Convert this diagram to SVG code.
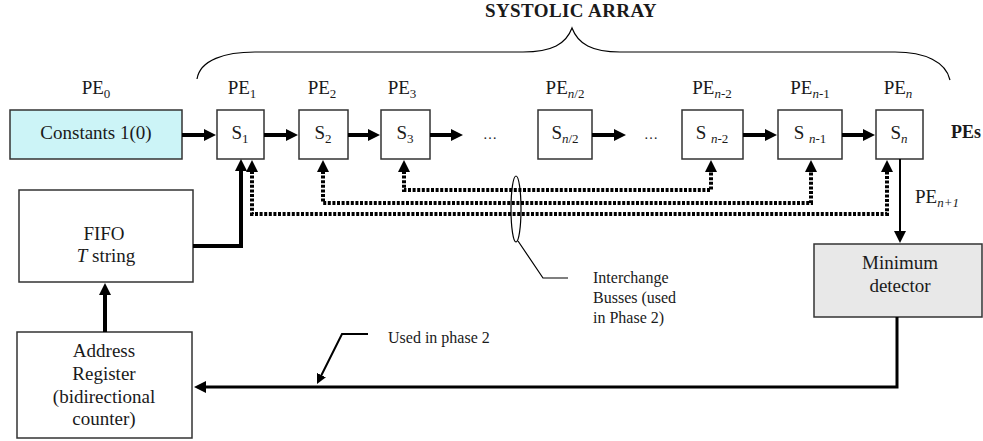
<svg xmlns="http://www.w3.org/2000/svg" width="983" height="441" viewBox="0 0 983 441">
<style>
.t{font-family:"Liberation Serif","Times New Roman",serif;font-size:19px;fill:#1a1a1a}
.c{text-anchor:middle}
.sub{font-size:13px}
.i{font-style:italic}
.b{font-weight:bold}
.box{fill:#fff;stroke:#333;stroke-width:1.5}
.thick{stroke:#000;stroke-width:4;fill:none}
.dot{stroke:#000;stroke-width:4;fill:none;stroke-dasharray:3 1.6}
.thin{stroke:#000;stroke-width:1.2;fill:none}
</style>
<defs>
<marker id="ah" markerUnits="userSpaceOnUse" markerWidth="12" markerHeight="12" viewBox="0 0 12 12" refX="1" refY="6" orient="auto-start-reverse"><path d="M0,0 L12,6 L0,12 z" fill="#000"/></marker>
<marker id="ahs" markerUnits="userSpaceOnUse" markerWidth="10" markerHeight="10" viewBox="0 0 10 10" refX="1" refY="5" orient="auto"><path d="M0,0 L10,5 L0,10 z" fill="#000"/></marker>
</defs>
<rect width="983" height="441" fill="#fff"/>

<g id="brace">
<path class="thin" d="M197,79 C200,60 225,52 255,52 L523,52 C552,52 566,44 572,28 C578,44 592,52 620,52 L895,52 C925,52 946,62 950,80"/>
<text class="t b c" x="571" y="17" style="letter-spacing:0.4px">SYSTOLIC ARRAY</text>
</g>

<g id="pe0">
<text class="t c" x="96" y="94">PE<tspan class="sub" dy="4">0</tspan></text>
<rect x="10" y="110" width="172" height="49" fill="#ccf4f7" stroke="#333" stroke-width="1.5"/>
<text class="t c" x="96" y="139">Constants 1(0)</text>
</g>

<g id="pe1">
<text class="t c" x="242" y="94">PE<tspan class="sub" dy="4">1</tspan></text>
<rect class="box" x="217" y="110" width="47" height="49"/>
<text class="t c" x="240" y="139">S<tspan class="sub" dy="4">1</tspan></text>
</g>
<g id="pe2">
<text class="t c" x="322" y="94">PE<tspan class="sub" dy="4">2</tspan></text>
<rect class="box" x="299" y="110" width="49" height="49"/>
<text class="t c" x="323" y="139">S<tspan class="sub" dy="4">2</tspan></text>
</g>
<g id="pe3">
<text class="t c" x="402" y="94">PE<tspan class="sub" dy="4">3</tspan></text>
<rect class="box" x="381" y="110" width="49" height="49"/>
<text class="t c" x="405" y="139">S<tspan class="sub" dy="4">3</tspan></text>
</g>
<g id="dots1"><text class="t c" x="490" y="139" style="font-size:14px">…</text></g>
<g id="pen2">
<text class="t c" x="565" y="94">PE<tspan class="sub" dy="4"><tspan class="i">n</tspan>/2</tspan></text>
<rect class="box" x="538" y="110" width="54" height="49"/>
<text class="t c" x="565" y="139">S<tspan class="sub" dy="4"><tspan class="i">n</tspan>/2</tspan></text>
</g>
<g id="dots2"><text class="t c" x="651" y="139" style="font-size:14px">…</text></g>
<g id="penm2">
<text class="t c" x="712" y="94">PE<tspan class="sub" dy="4"><tspan class="i">n</tspan>-2</tspan></text>
<rect class="box" x="682" y="110" width="61" height="49"/>
<text class="t c" x="712" y="139">S <tspan class="sub" dy="4"><tspan class="i">n</tspan>-2</tspan></text>
</g>
<g id="penm1">
<text class="t c" x="810" y="94">PE<tspan class="sub" dy="4"><tspan class="i">n</tspan>-1</tspan></text>
<rect class="box" x="778" y="110" width="64" height="49"/>
<text class="t c" x="810" y="139">S <tspan class="sub" dy="4"><tspan class="i">n</tspan>-1</tspan></text>
</g>
<g id="pen">
<text class="t c" x="898" y="94">PE<tspan class="sub i" dy="4">n</tspan></text>
<rect class="box" x="876" y="110" width="47" height="49"/>
<text class="t c" x="899" y="139">S<tspan class="sub i" dy="4">n</tspan></text>
</g>
<g id="pes"><text class="t b" x="951" y="138" style="font-size:18px">PEs</text></g>

<g id="fifo">
<rect class="box" x="19" y="190" width="174" height="92"/>
<text class="t c" x="104" y="240">FIFO</text>
<text class="t c" x="106" y="262"><tspan class="i">T</tspan> string</text>
</g>

<g id="address">
<rect class="box" x="17" y="332" width="175" height="106"/>
<text class="t c" x="104" y="357">Address</text>
<text class="t c" x="104" y="380">Register</text>
<text class="t c" x="104" y="403">(bidirectional</text>
<text class="t c" x="104" y="425">counter)</text>
</g>

<g id="mindet">
<rect x="814" y="244" width="168" height="73" fill="#e8e8e8" stroke="#333" stroke-width="1.5"/>
<text class="t c" x="900" y="269">Minimum</text>
<text class="t c" x="900" y="292">detector</text>
</g>

<g id="labels">
<text class="t" x="915" y="203">PE<tspan class="sub i" dy="4">n+1</tspan></text>
<text class="t" x="388" y="343" style="font-size:16px">Used in phase 2</text>
<text class="t" x="593" y="283" style="font-size:16px">Interchange</text>
<text class="t" x="593" y="303" style="font-size:16px">Busses (used</text>
<text class="t" x="593" y="323" style="font-size:16px">in Phase 2)</text>
</g>

<g id="connectors">
<line class="thick" x1="182" y1="135" x2="205" y2="135" marker-end="url(#ah)"/>
<line class="thick" x1="264" y1="135" x2="287" y2="135" marker-end="url(#ah)"/>
<line class="thick" x1="348" y1="135" x2="369" y2="135" marker-end="url(#ah)"/>
<line class="thick" x1="430" y1="135" x2="452" y2="135" marker-end="url(#ah)"/>
<line class="thick" x1="592" y1="135" x2="615" y2="135" marker-end="url(#ah)"/>
<line class="thick" x1="743" y1="135" x2="766" y2="135" marker-end="url(#ah)"/>
<line class="thick" x1="842" y1="135" x2="864" y2="135" marker-end="url(#ah)"/>
<line x1="900" y1="159" x2="900" y2="232" stroke="#000" stroke-width="2" marker-end="url(#ah)"/>
<path d="M897,317 V387 H205" stroke="#000" stroke-width="3" fill="none" marker-end="url(#ah)"/>
<line class="thick" x1="105" y1="332" x2="105" y2="294" marker-end="url(#ah)"/>
<path class="thick" d="M193,246 H241 V170" marker-end="url(#ah)"/>
<path class="dot" d="M252,171 V214 H887 V171" marker-start="url(#ah)" marker-end="url(#ah)"/>
<path class="dot" d="M323,171 V203 H811 V171" marker-start="url(#ah)" marker-end="url(#ah)"/>
<path class="dot" d="M404,171 V190 H711 V171" marker-start="url(#ah)" marker-end="url(#ah)"/>
<path d="M368,334 H342 L321,376" stroke="#000" stroke-width="2" fill="none" marker-end="url(#ahs)"/>
<ellipse class="thin" cx="516" cy="209" rx="5" ry="33"/>
<path class="thin" d="M518,241 L543,278 H568"/>
</g>
</svg>
